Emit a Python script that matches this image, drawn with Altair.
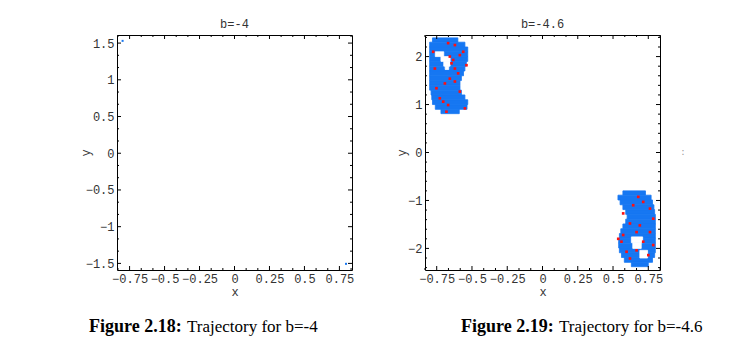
import altair as alt
import pandas as pd

# ---------------- data ----------------
# left panel (b=-4): only two isolated trajectory points
L_PTS_X = [-0.80, 0.797]
L_PTS_Y = [1.53, -1.506]

# right panel (b=-4.6): upper-left blob as horizontal bands
TL_Y_LO = [2.30, 2.20, 2.10, 2.00, 1.90, 1.80, 1.70, 1.60, 1.50, 1.40, 1.30, 1.20, 1.10, 1.00, 0.90, 0.81]
TL_Y_HI = [2.39, 2.30, 2.20, 2.10, 2.00, 1.90, 1.80, 1.70, 1.60, 1.50, 1.40, 1.30, 1.20, 1.10, 1.00, 0.90]
TL_X_LO = [-0.78, -0.80, -0.80, -0.80, -0.80, -0.80, -0.80, -0.80, -0.80, -0.80, -0.80, -0.79, -0.785, -0.78, -0.76, -0.72]
TL_X_HI = [-0.60, -0.55, -0.53, -0.53, -0.53, -0.54, -0.55, -0.56, -0.575, -0.585, -0.585, -0.575, -0.55, -0.53, -0.535, -0.59]
TL_HOLE_Y_LO = [2.00, 1.90, 1.80, 1.73]
TL_HOLE_Y_HI = [2.10, 2.00, 1.90, 1.80]
TL_HOLE_X_LO = [-0.76, -0.72, -0.70, -0.69]
TL_HOLE_X_HI = [-0.70, -0.655, -0.655, -0.665]

# lower-right blob
BR_Y_LO = [-0.89, -0.99, -1.09, -1.19, -1.29, -1.39, -1.49, -1.59, -1.69, -1.79, -1.89, -1.99, -2.09, -2.19, -2.29, -2.38]
BR_Y_HI = [-0.80, -0.89, -0.99, -1.09, -1.19, -1.29, -1.39, -1.49, -1.59, -1.69, -1.79, -1.89, -1.99, -2.09, -2.19, -2.29]
BR_X_LO = [0.57, 0.535, 0.55, 0.57, 0.59, 0.60, 0.59, 0.57, 0.555, 0.545, 0.54, 0.54, 0.545, 0.56, 0.58, 0.63]
BR_X_HI = [0.73, 0.77, 0.78, 0.79, 0.795, 0.80, 0.80, 0.80, 0.80, 0.80, 0.80, 0.80, 0.80, 0.795, 0.78, 0.75]
BR_HOLE_Y_LO = [-1.88, -2.00, -2.20]
BR_HOLE_Y_HI = [-1.76, -1.88, -2.04]
BR_HOLE_X_LO = [0.63, 0.64, 0.69]
BR_HOLE_X_HI = [0.71, 0.70, 0.745]

# red trajectory points
RED_X = [-0.669, -0.621, -0.562, -0.586, -0.633, -0.645, -0.621, -0.598, -0.657, -0.692, -0.621,
         -0.728, -0.704, -0.669, -0.586, -0.55, -0.775, -0.763, -0.752, -0.539, -0.681, -0.657,
         0.679, 0.714, 0.762, 0.785, 0.62, 0.572, 0.56, 0.667, 0.714, 0.762, 0.596, 0.62, 0.69,
         0.75, 0.572, 0.643, 0.785, 0.667, 0.537]
RED_Y = [2.28, 2.24, 2.10, 2.03, 1.93, 1.86, 1.75, 1.65, 1.54, 1.44, 1.48,
         1.13, 1.06, 0.99, 1.27, 0.92, 2.10, 1.75, 1.34, 1.82, 0.85, 2.00,
         -0.925, -1.03, -1.17, -1.38, -1.48, -1.72, -1.86, -1.66, -1.86, -1.66, -2.07, -2.21, -1.52,
         -2.14, -1.27, -1.10, -1.93, -2.04, -1.80]

# axes
LX_MAJOR = [-0.75, -0.5, -0.25, 0, 0.25, 0.5, 0.75]
LX_MINOR = [-0.8333, -0.6667, -0.5833, -0.4167, -0.3333, -0.1667, -0.0833,
            0.0833, 0.1667, 0.3333, 0.4167, 0.5833, 0.6667, 0.8333]
LY_MAJOR = [-1.5, -1, -0.5, 0, 0.5, 1, 1.5]
LY_MINOR = [-1.3333, -1.1667, -0.8333, -0.6667, -0.3333, -0.1667,
            0.1667, 0.3333, 0.6667, 0.8333, 1.1667, 1.3333]
RY_MAJOR = [-2, -1, 0, 1, 2]
RY_MINOR = [-2.4, -2.2, -1.8, -1.6, -1.4, -1.2, -0.8, -0.6, -0.4, -0.2,
            0.2, 0.4, 0.6, 0.8, 1.2, 1.4, 1.6, 1.8, 2.2, 2.4]
L_XDOM = [-0.84, 0.84]
L_YDOM = [-1.59, 1.61]
R_XDOM = [-0.833, 0.833]
R_YDOM = [-2.45, 2.45]

TITLES = ["b=-4", "b=-4.6"]
CAP_BOLD = ["Figure 2.18:", "Figure 2.19:"]
CAP_REST = ["Trajectory for b=-4", "Trajectory for b=-4.6"]

# ---------------- style ----------------
BLUE = "#1677f2"
RED = "#ff1010"
MONO = "Liberation Mono"
SERIF = "Liberation Serif"
W = 235
H = 235
CAP_Y = 292


def rule_layer(vals, chan, xa, ya, side, length):
    df = pd.DataFrame({"v": vals})
    base = alt.Chart(df).mark_rule(color="black", strokeWidth=1)
    if chan == "x":
        enc = dict(x=xa("v"))
        if side == "bottom":
            enc.update(y=alt.value(H), y2=alt.value(H - length))
        else:
            enc.update(y=alt.value(0), y2=alt.value(length))
    else:
        enc = dict(y=ya("v"))
        if side == "left":
            enc.update(x=alt.value(0), x2=alt.value(length))
        else:
            enc.update(x=alt.value(W), x2=alt.value(W - length))
    return base.encode(**enc)


def panel(xdom, ydom, xmaj, xmin, ymaj, ymin, title, ytitle_x, cap, layers):
    xs = alt.Scale(domain=xdom, nice=False, zero=False)
    ys = alt.Scale(domain=ydom, nice=False, zero=False)
    xaxis = alt.Axis(values=xmaj, format=".2~f", title="x", labelOverlap=False,
                     labelFlush=False, titlePadding=2)
    yaxis = alt.Axis(values=ymaj, format=".2~f", title="y", labelOverlap=False,
                     labelFlush=False, titleX=ytitle_x, titleY=H / 2,
                     titleAlign="center", titleBaseline="middle", titleAngle=270)

    def xa(field):
        return alt.X(f"{field}:Q", scale=xs, axis=xaxis)

    def ya(field):
        return alt.Y(f"{field}:Q", scale=ys, axis=yaxis)

    parts = [f(xa, ya) for f in layers]
    parts += [
        rule_layer(xmaj, "x", xa, ya, "bottom", 4),
        rule_layer(xmin, "x", xa, ya, "bottom", 2),
        rule_layer(xmaj, "x", xa, ya, "top", 4),
        rule_layer(xmin, "x", xa, ya, "top", 2),
        rule_layer(ymaj, "y", xa, ya, "left", 4),
        rule_layer(ymin, "y", xa, ya, "left", 2),
        rule_layer(ymaj, "y", xa, ya, "right", 4),
        rule_layer(ymin, "y", xa, ya, "right", 2),
    ]
    capdf = pd.DataFrame({"b": [cap[2]], "r": [cap[3]]})
    parts.append(alt.Chart(capdf).mark_text(align="left", baseline="middle", font=SERIF, fontSize=18,
                                            fontWeight="bold", color="black")
                 .encode(text="b:N", x=alt.value(cap[0]), y=alt.value(CAP_Y)))
    parts.append(alt.Chart(capdf).mark_text(align="left", baseline="middle", font=SERIF, fontSize=17,
                                            color="black")
                 .encode(text="r:N", x=alt.value(cap[1]), y=alt.value(CAP_Y)))
    return alt.layer(*parts).properties(width=W, height=H, title=title)


def left_points(xa, ya):
    df = pd.DataFrame({"x": L_PTS_X, "y": L_PTS_Y})
    return alt.Chart(df).mark_square(size=4, color=BLUE, opacity=1).encode(x=xa("x"), y=ya("y"))


def band_layer(xlo, xhi, ylo, yhi, color):
    def f(xa, ya):
        df = pd.DataFrame({"x0": xlo, "x1": xhi, "y0": ylo, "y1": yhi})
        return alt.Chart(df).mark_rect(color=color, stroke=color, strokeWidth=0.8, opacity=1).encode(
            x=xa("x0"), x2="x1:Q", y=ya("y0"), y2="y1:Q")
    return f


def red_points(xa, ya):
    df = pd.DataFrame({"x": RED_X, "y": RED_Y})
    return alt.Chart(df).mark_square(size=7, color=RED, opacity=1).encode(x=xa("x"), y=ya("y"))


def colon_mark(xa, ya):
    df = pd.DataFrame({"t": [":"]})
    return alt.Chart(df).mark_text(fontSize=9, color="#999999", font=MONO).encode(
        text="t:N", x=alt.value(258), y=alt.value(117))


left = panel(L_XDOM, L_YDOM, LX_MAJOR, LX_MINOR, LY_MAJOR, LY_MINOR, TITLES[0], -32,
             (-28, 70, CAP_BOLD[0], CAP_REST[0]), [left_points])

right = panel(R_XDOM, R_YDOM, LX_MAJOR, LX_MINOR, RY_MAJOR, RY_MINOR, TITLES[1], -24,
              (36, 134, CAP_BOLD[1], CAP_REST[1]),
              [band_layer(TL_X_LO, TL_X_HI, TL_Y_LO, TL_Y_HI, BLUE),
               band_layer(TL_HOLE_X_LO, TL_HOLE_X_HI, TL_HOLE_Y_LO, TL_HOLE_Y_HI, "white"),
               band_layer(BR_X_LO, BR_X_HI, BR_Y_LO, BR_Y_HI, BLUE),
               band_layer(BR_HOLE_X_LO, BR_HOLE_X_HI, BR_HOLE_Y_LO, BR_HOLE_Y_HI, "white"),
               red_points, colon_mark])

chart = (
    alt.hconcat(left, right, spacing=39)
    .configure_view(stroke="black", strokeWidth=1)
    .configure_axis(labelFont=MONO, labelFontSize=12, labelColor="#333333", titleFont=MONO,
                    titleFontSize=12, titleFontWeight="normal", titleColor="#333333", grid=False,
                    ticks=False, domain=False, labelPadding=3, titlePadding=0)
    .configure_title(font=MONO, fontSize=12, fontWeight="normal", color="#333333", offset=4)
    .properties(padding={"left": 78, "top": 17, "right": 5, "bottom": 5}, background="white")
)

chart.save("out.html", embed_options={"renderer": "svg", "actions": False})
